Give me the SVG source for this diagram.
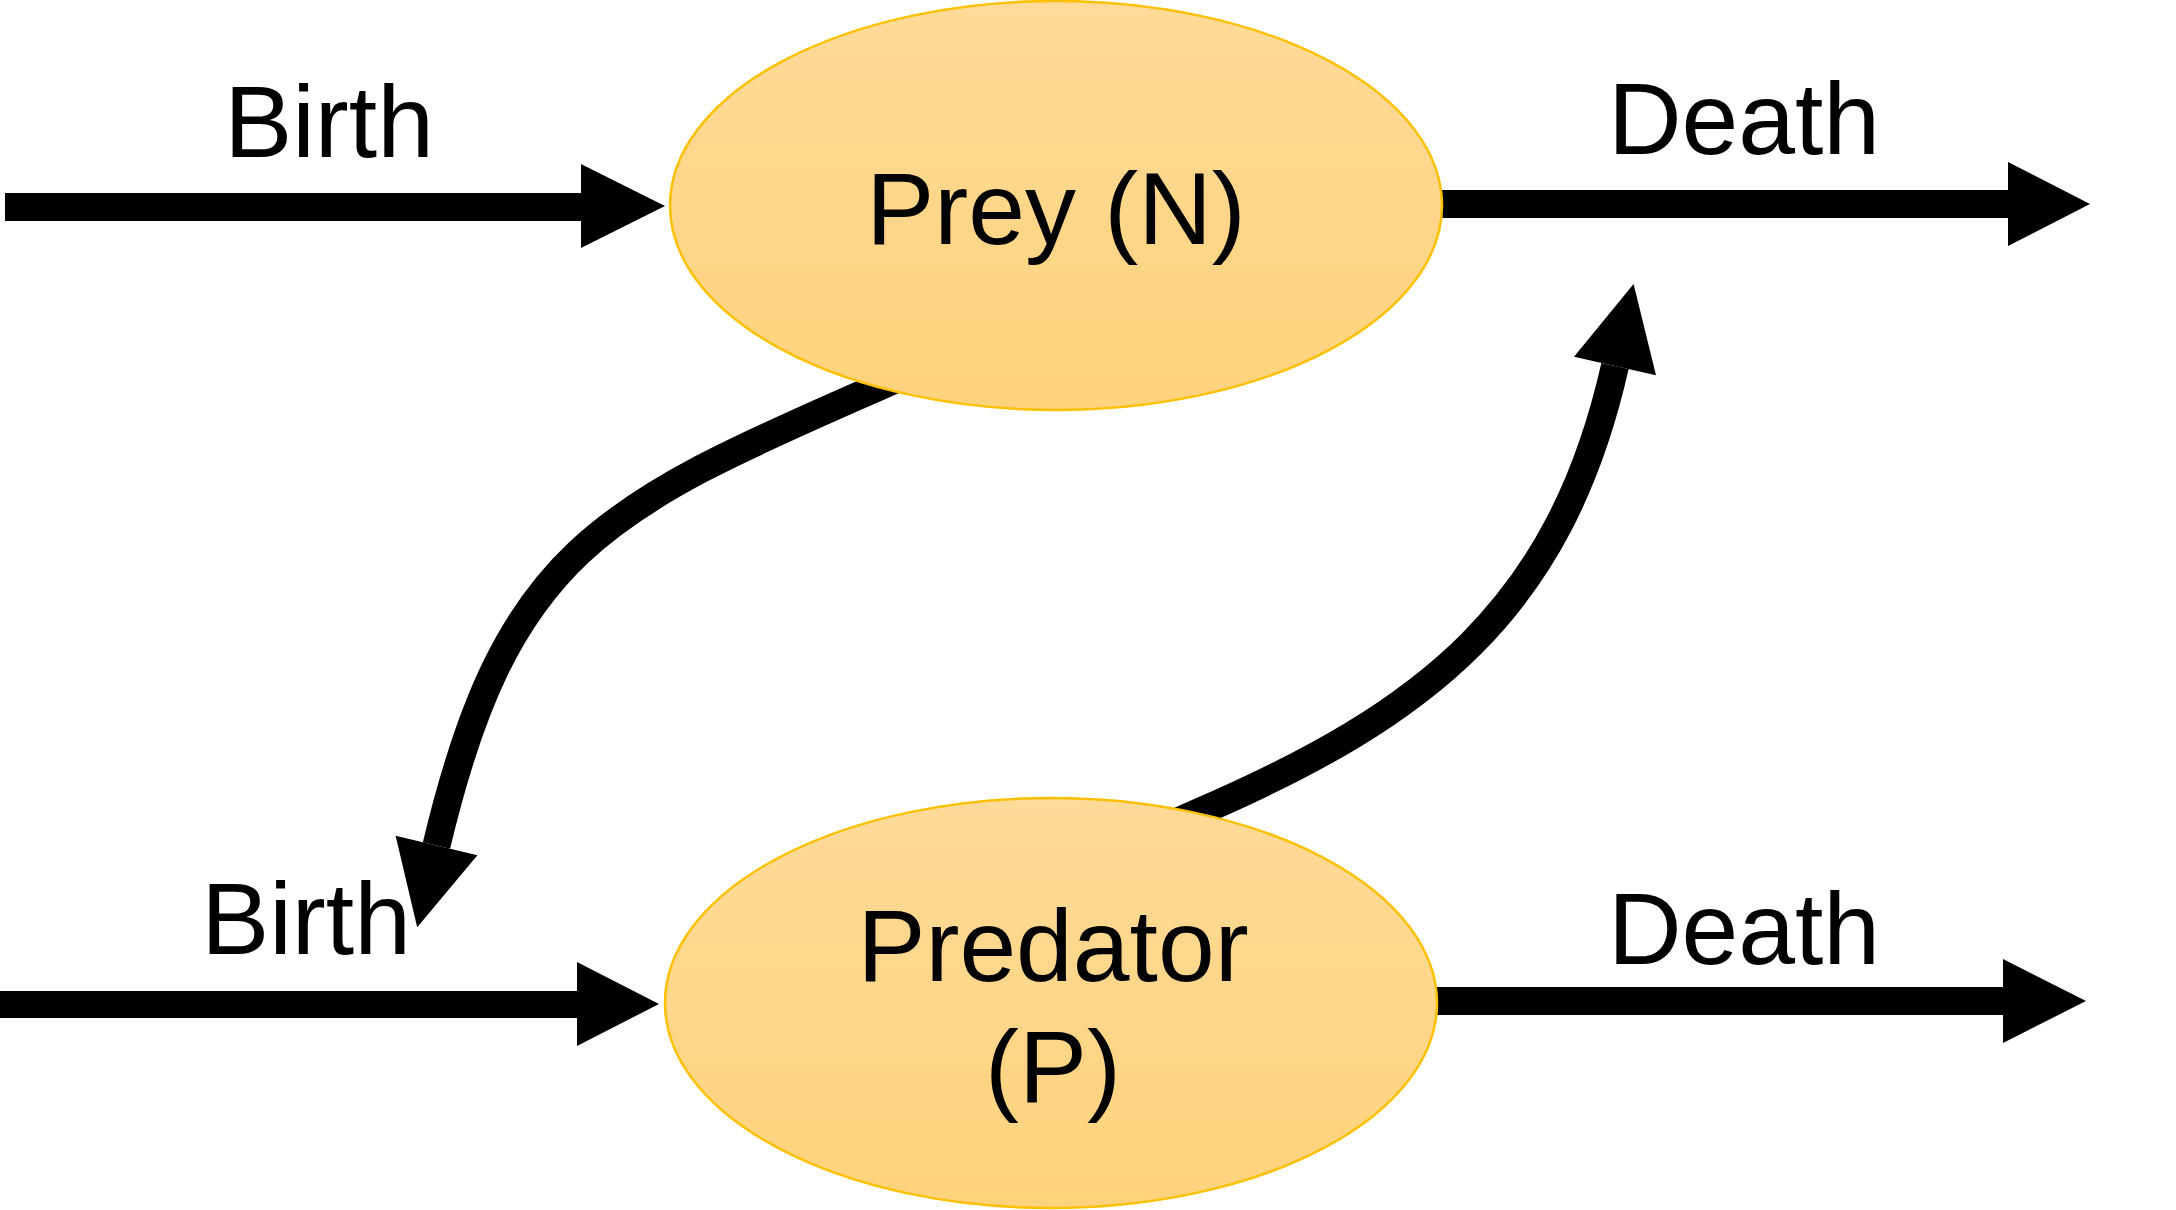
<svg xmlns="http://www.w3.org/2000/svg" width="2176" height="1210" viewBox="0 0 2176 1210">
  <defs>
    <linearGradient id="fillGrad" x1="0" y1="0" x2="0" y2="1">
      <stop offset="0" stop-color="#FFDA98"/>
      <stop offset="1" stop-color="#FFD37C"/>
    </linearGradient>
    <style>
      .node { fill: url(#fillGrad); stroke: #FFC000; stroke-width: 2.5; }
      .label { font-family: "Liberation Sans", Arial, sans-serif; font-size: 102px; fill: #000000; text-anchor: middle; }
      .flow { fill: #000000; stroke: none; }
      .curve { fill: none; stroke: #000000; stroke-width: 28; stroke-linecap: butt; stroke-linejoin: round; }
    </style>
  </defs>
  <rect x="0" y="0" width="2176" height="1210" fill="#FFFFFF"/>

  <g id="connectors">
    <!-- Prey birth -->
    <polygon class="flow" points="5,193 581,193 581,164 665,206 581,248 581,221 5,221"/>
    <!-- Prey death -->
    <polygon class="flow" points="1438,190 2008,190 2008,162 2090,204 2008,246 2008,218 1438,218"/>
    <!-- Predator birth -->
    <polygon class="flow" points="0,991 577,991 577,962 659,1004 577,1046 577,1018 0,1018"/>
    <!-- Predator death -->
    <polygon class="flow" points="1433,987 2003,987 2003,959 2086,1001 2003,1043 2003,1015 1433,1015"/>
    <!-- Prey -> predator birth (curved) -->
    <path class="curve" d="M894,380 L876,388 C601,508 506,553 436.5,845.5"/>
    <polygon class="flow" points="395.6,835.8 477.4,855.2 417.2,927.2"/>
    <!-- Predator -> prey death (curved) -->
    <path class="curve" d="M1179,821 L1197,813 C1426.5,714 1559.75,609.75 1615,366"/>
    <polygon class="flow" points="1574,356.7 1656,375.3 1633.6,284.1"/>
  </g>

  <g id="prey">
    <ellipse class="node" cx="1056" cy="205.5" rx="386" ry="204.5"/>
    <text class="label" x="1056" y="244">Prey (N)</text>
  </g>

  <g id="predator">
    <ellipse class="node" cx="1051" cy="1003" rx="386" ry="205"/>
    <text class="label" x="1053" y="981">Predator</text>
    <text class="label" x="1053" y="1102">(P)</text>
  </g>

  <g id="labels">
    <text class="label" x="329" y="157">Birth</text>
    <text class="label" x="1744" y="154">Death</text>
    <text class="label" x="306" y="954">Birth</text>
    <text class="label" x="1744" y="964">Death</text>
  </g>
</svg>
